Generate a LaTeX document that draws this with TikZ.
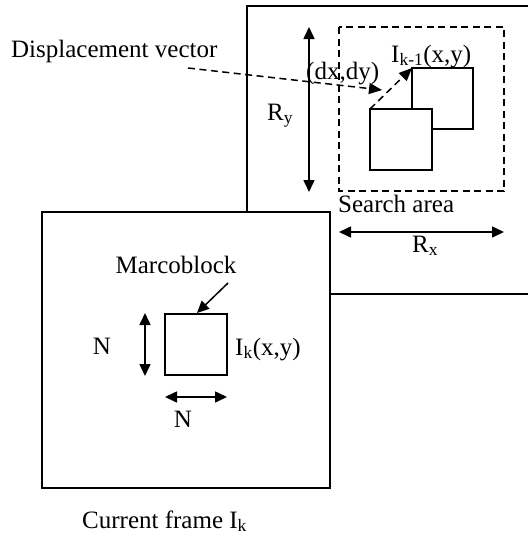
\documentclass[tikz,border=0pt]{standalone}
\usepackage{fontspec}
\setmainfont{Liberation Serif}
\usetikzlibrary{arrows.meta}
\tikzset{
  frame/.style={draw=black, line width=1.4pt},
  blockbox/.style={draw=black, line width=1.4pt, fill=white},
  sarea/.style={draw=black, line width=1.4pt, dash pattern=on 7pt off 4.5pt},
  dimarrow/.style={line width=1.6pt, {Triangle[length=12pt,width=11pt]}-{Triangle[length=12pt,width=11pt]}},
  onearrow/.style={line width=1.5pt, -{Triangle[length=12pt,width=11pt]}},
  dasharrow/.style={line width=1.5pt, dash pattern=on 7pt off 4.5pt, -{Triangle[length=13pt,width=11pt]}},
  lbl/.style={inner sep=0pt, font=\fontsize{25}{29}\selectfont},
}
\begin{document}
\begin{tikzpicture}[x=1pt,y=-1pt]
\useasboundingbox (0,0) rectangle (528,539);
\clip (0,0) rectangle (528,539);
% previous frame
\draw[frame] (247,6) rectangle (560,294);
% search area
\draw[sarea] (339,27) rectangle (504,191);
% blocks in previous frame
\draw[blockbox] (412,68) rectangle (473,129);
\coordinate (b1) at (412,68);
\draw[blockbox] (370,109) rectangle (432,170);
\coordinate (b2) at (370,109);
\draw[dasharrow] (b2) -- (b1);
% Ry, Rx
\coordinate (ryt) at (309,27); \coordinate (ryb) at (309,192);
\draw[dimarrow] (ryt) -- (ryb);
\coordinate (rxl) at (339,232); \coordinate (rxr) at (504,232);
\draw[dimarrow] (rxl) -- (rxr);
\node[lbl, anchor=base west] (ry) at (267,120) {R\textsubscript{y}};
\node[lbl, anchor=base west] (rx) at (412,252) {R\textsubscript{x}};
\node[lbl, anchor=base west] (sa) at (338,212) {Search area};
\node[lbl, anchor=base west] (ik1) at (391,62) {I\textsubscript{k-1}(x,y)};
\node[lbl, anchor=base west] (dxdy) at (306,79) {(dx,dy)};
% displacement vector
\node[lbl, anchor=base west] (dv) at (11,57) {Displacement vector};
\coordinate (dvs) at (188,68);
\coordinate (dve) at (382,90);
\draw[dasharrow] (dvs) -- (dve);
% current frame
\draw[frame, fill=white] (42,212) rectangle (330,488);
\draw[blockbox] (165,314) rectangle (227,375);
\coordinate (mbt) at (197,313);
\coordinate (mbs) at (228,283);
\draw[onearrow] (mbs) -- (mbt);
\node[lbl, anchor=base] (mb) at (176,273) {Marcoblock};
\coordinate (nvt) at (145,313); \coordinate (nvb) at (145,376);
\draw[dimarrow] (nvt) -- (nvb);
\coordinate (nhl) at (165,397); \coordinate (nhr) at (227,397);
\draw[dimarrow] (nhl) -- (nhr);
\node[lbl, anchor=base] (n1) at (102,354) {N};
\node[lbl, anchor=base] (n2) at (183,427) {N};
\node[lbl, anchor=base west] (ik) at (235,355) {I\textsubscript{k}(x,y)};
\node[lbl, anchor=base west] (cf) at (82,528) {Current frame I\textsubscript{k}};
\end{tikzpicture}
\end{document}
